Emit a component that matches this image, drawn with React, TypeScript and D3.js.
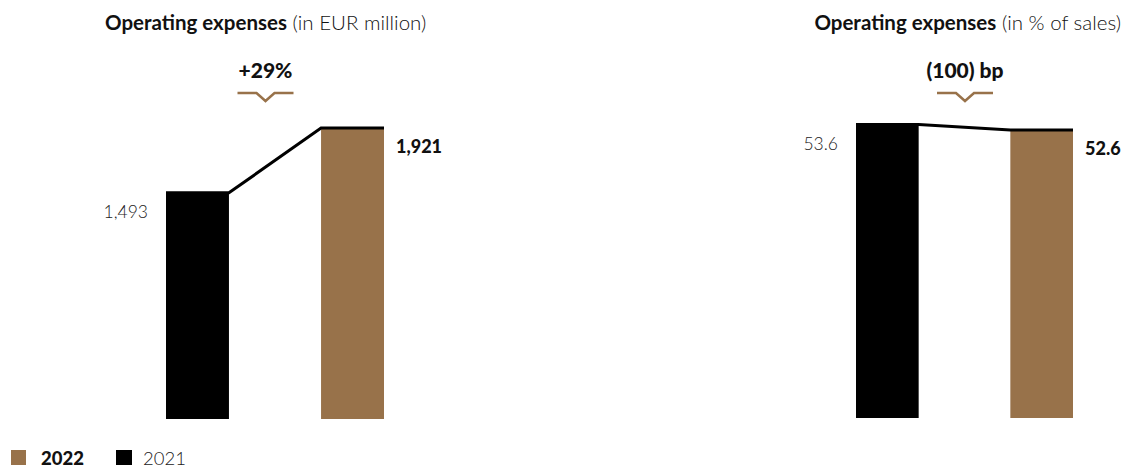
import React from "react";
import * as d3 from "d3";

const years = ["2021", "2022"];
const opexEur = [1493, 1921];
const opexPct = [53.6, 52.6];
const eurLabels = ["1,493", "1,921"];
const pctLabels = ["53.6", "52.6"];
const changeEur = "+29%";
const changePct = "(100) bp";
const legendYears = ["2022", "2021"];

const GOLD = "#98724a";
const FONT = "Lato, 'Noto Sans', sans-serif";

function Panel({ values, labels, x0, x1, yTop, yBase, titleBold, titleLight, titleX, titleAnchor, change, changeX }: any) {
  const x = d3.scaleBand().domain(years).range([x0, x1]).paddingInner(0.594).paddingOuter(0);
  const y = d3.scaleLinear().domain([0, d3.max(values) as number]).range([yBase, yTop]);
  const bw = x.bandwidth();
  const pts: [number, number][] = [];
  years.forEach((yr, i) => {
    pts.push([x(yr)!, y(values[i])]);
    pts.push([x(yr)! + bw, y(values[i])]);
  });
  const line = d3.line()(pts) as string;
  return (
    <g>
      <text x={titleX} y={30} textAnchor={titleAnchor} fontFamily={FONT} fontSize={20.5} fill="#111">
        <tspan fontWeight={700}>{titleBold}</tspan>
        <tspan fontWeight={300}>{titleLight}</tspan>
      </text>
      <text x={changeX} y={78} textAnchor="middle" fontFamily={FONT} fontSize={21} fontWeight={900} fill="#111">{change}</text>
      <path d={`M${changeX - 28},93 H${changeX - 9} L${changeX},101 L${changeX + 9},93 H${changeX + 28}`} fill="none" stroke={GOLD} strokeWidth={2.5} />
      {years.map((yr, i) => (
        <rect key={yr} x={x(yr)} y={y(values[i])} width={bw} height={yBase - y(values[i])} fill={i === 0 ? "#000" : GOLD} />
      ))}
      <path d={line} fill="none" stroke="#000" strokeWidth={3} />
      <text x={x(years[0])! - 18} y={y(values[0]) + 25} textAnchor="end" fontFamily={FONT} fontSize={17.5} fontWeight={300} fill="#222">{labels[0]}</text>
      <text x={x(years[1])! + bw + 12} y={y(values[1]) + 25} textAnchor="start" fontFamily={FONT} fontSize={18} fontWeight={900} fill="#111">{labels[1]}</text>
    </g>
  );
}

export default function App() {
  return (
    <svg width={1130} height={468} style={{ position: "absolute", left: 0, top: 0 }}>
      <rect width={1130} height={468} fill="#fff" />
      <Panel values={opexEur} labels={eurLabels} x0={166} x1={384} yTop={128} yBase={419}
        titleBold="Operating expenses" titleLight=" (in EUR million)" titleX={105} titleAnchor="start"
        change={changeEur} changeX={265.5} />
      <Panel values={opexPct} labels={pctLabels} x0={856} x1={1073} yTop={124.5} yBase={418}
        titleBold="Operating expenses" titleLight=" (in % of sales)" titleX={1121} titleAnchor="end"
        change={changePct} changeX={965} />
      <g fontFamily={FONT} fontSize={18.5}>
        <rect x={11} y={450} width={15} height={15} fill={GOLD} />
        <text x={41} y={465} fontWeight={900} fill="#111">{legendYears[0]}</text>
        <rect x={116} y={450} width={16} height={15} fill="#000" />
        <text x={143} y={465} fontWeight={300} fill="#222">{legendYears[1]}</text>
      </g>
    </svg>
  );
}
